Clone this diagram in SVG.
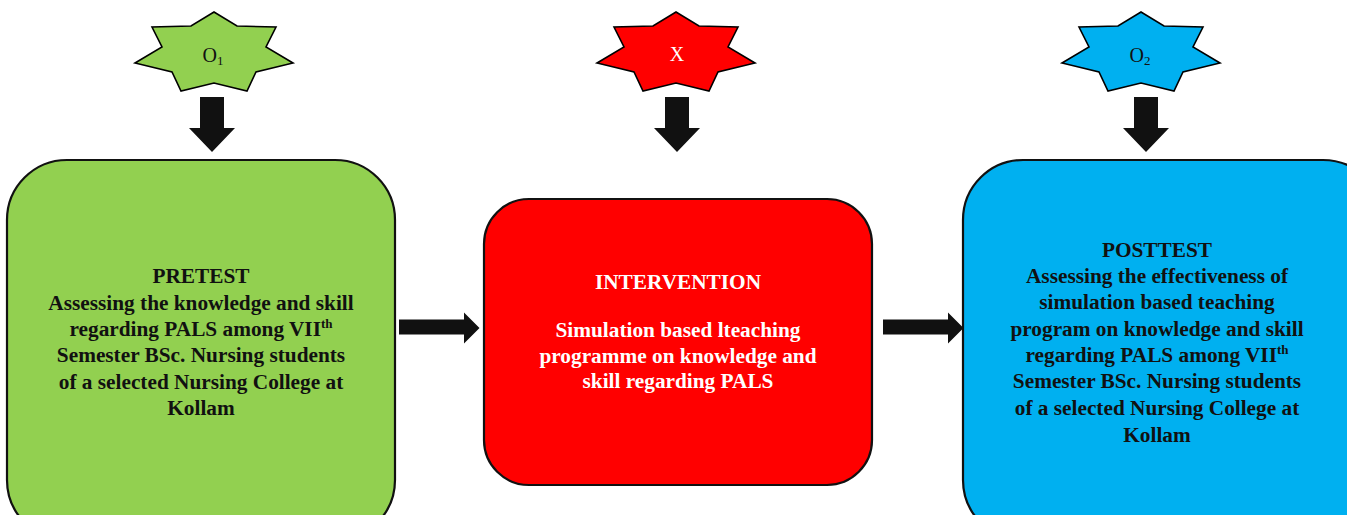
<svg xmlns="http://www.w3.org/2000/svg" width="1347" height="515" viewBox="0 0 1347 515">
<style>
.star{stroke:#000;stroke-width:1.6;stroke-linejoin:miter}
.box{stroke:#111;stroke-width:2.2}
.arrow{fill:#111}
.t{font-family:"Liberation Serif","Times New Roman",serif;font-weight:bold;font-size:21.3px;text-anchor:middle;fill:#111}
.lab{font-family:"Liberation Serif","Times New Roman",serif;font-size:20px;text-anchor:middle;fill:#111}
.w{fill:#fff}
.sup{font-size:13px}
</style>
<defs>
<polygon id="star" points="0,-43 23,-29 62,-28 52,-8 79,8 42,17 33,36 0,28 -33,36 -42,17 -79,8 -52,-8 -62,-28 -23,-29"/>
<path id="darrow" d="M-12,0 H12 V31 H23 L0,55 L-23,31 H-12 Z"/>
</defs>
<rect width="1347" height="515" fill="#fff"/>
<g id="o1">
<use href="#star" class="star" fill="#92D050" transform="translate(214,55)"/>
<text class="lab" x="213" y="62">O<tspan font-size="13" dy="3">1</tspan></text>
</g>
<g id="x">
<use href="#star" class="star" fill="#FF0000" transform="translate(676,55)"/>
<text class="lab w" x="677" y="61">X</text>
</g>
<g id="o2">
<use href="#star" class="star" fill="#00B0F0" transform="translate(1141,55)"/>
<text class="lab" x="1140" y="62">O<tspan font-size="13" dy="3">2</tspan></text>
</g>
<g id="pretest">
<rect class="box" x="7" y="160" width="388" height="380" rx="60" ry="60" fill="#92D050"/>
<text class="t" x="201" y="283">PRETEST</text>
<text class="t" x="201" y="310">Assessing the knowledge and skill</text>
<text class="t" x="201" y="336">regarding PALS among VII<tspan class="sup" dy="-8">th</tspan></text>
<text class="t" x="201" y="362">Semester BSc. Nursing students</text>
<text class="t" x="201" y="389">of a selected Nursing College at</text>
<text class="t" x="201" y="415">Kollam</text>
</g>
<g id="intervention">
<rect class="box" x="484" y="199" width="388" height="286" rx="45" ry="45" fill="#FF0000"/>
<text class="t w" x="678" y="289">INTERVENTION</text>
<text class="t w" x="678" y="337">Simulation based lteaching</text>
<text class="t w" x="678" y="363">programme on knowledge and</text>
<text class="t w" x="678" y="388">skill regarding PALS</text>
</g>
<g id="posttest">
<rect class="box" x="963" y="160" width="420" height="380" rx="60" ry="60" fill="#00B0F0"/>
<text class="t" x="1157" y="257">POSTTEST</text>
<text class="t" x="1157" y="283">Assessing the effectiveness of</text>
<text class="t" x="1157" y="309">simulation based teaching</text>
<text class="t" x="1157" y="336">program on knowledge and skill</text>
<text class="t" x="1157" y="362">regarding PALS among VII<tspan class="sup" dy="-8">th</tspan></text>
<text class="t" x="1157" y="388">Semester BSc. Nursing students</text>
<text class="t" x="1157" y="415">of a selected Nursing College at</text>
<text class="t" x="1157" y="442">Kollam</text>
</g>
<g id="connectors">
<use href="#darrow" class="arrow" transform="translate(212,97)"/>
<use href="#darrow" class="arrow" transform="translate(677,97)"/>
<use href="#darrow" class="arrow" transform="translate(1146,97)"/>
<path class="arrow" d="M399,319.5 H464 V312.5 L479.5,328 L464,343.5 V334.5 H399 Z"/>
<path class="arrow" d="M883,319.5 H948 V312.5 L963.5,328 L948,343.5 V334.5 H883 Z"/>
</g>
</svg>
